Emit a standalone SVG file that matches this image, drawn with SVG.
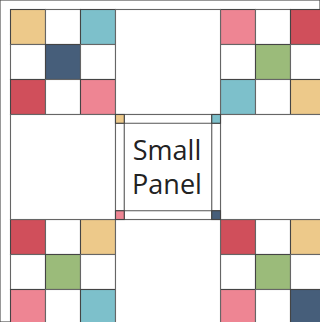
<svg xmlns="http://www.w3.org/2000/svg" width="320" height="322" viewBox="0 0 320 322">
<style>
rect{stroke:#444;stroke-width:1.1}
.w{fill:#fff;stroke:#666}
.y{fill:#EDC98A}
.t{fill:#7DC0CB}
.b{fill:#465E7A}
.r{fill:#D04F5B}
.p{fill:#EE8593}
.g{fill:#9BBB7A}
.ln{stroke:#555;stroke-width:1.1;fill:none}
text{font-family:"Open Sans","Liberation Sans",sans-serif;font-size:27px;fill:#222;text-anchor:middle}
</style>
<rect width="320" height="322" fill="#fff" stroke="none"/>
<g id="block-top-left">
<rect class="y" x="10.5" y="9.5" width="35" height="35"/><rect class="w" x="45.5" y="9.5" width="35" height="35"/><rect class="t" x="80.5" y="9.5" width="35" height="35"/>
<rect class="w" x="10.5" y="44.5" width="35" height="35"/><rect class="b" x="45.5" y="44.5" width="35" height="35"/><rect class="w" x="80.5" y="44.5" width="35" height="35"/>
<rect class="r" x="10.5" y="79.5" width="35" height="35"/><rect class="w" x="45.5" y="79.5" width="35" height="35"/><rect class="p" x="80.5" y="79.5" width="35" height="35"/>
</g>
<g id="block-top-right">
<rect class="p" x="220.5" y="9.5" width="35" height="35"/><rect class="w" x="255.5" y="9.5" width="35" height="35"/><rect class="r" x="290.5" y="9.5" width="35" height="35"/>
<rect class="w" x="220.5" y="44.5" width="35" height="35"/><rect class="g" x="255.5" y="44.5" width="35" height="35"/><rect class="w" x="290.5" y="44.5" width="35" height="35"/>
<rect class="t" x="220.5" y="79.5" width="35" height="35"/><rect class="w" x="255.5" y="79.5" width="35" height="35"/><rect class="y" x="290.5" y="79.5" width="35" height="35"/>
</g>
<g id="block-bottom-left">
<rect class="r" x="10.5" y="219.5" width="35" height="35"/><rect class="w" x="45.5" y="219.5" width="35" height="35"/><rect class="y" x="80.5" y="219.5" width="35" height="35"/>
<rect class="w" x="10.5" y="254.5" width="35" height="35"/><rect class="g" x="45.5" y="254.5" width="35" height="35"/><rect class="w" x="80.5" y="254.5" width="35" height="35"/>
<rect class="p" x="10.5" y="289.5" width="35" height="35"/><rect class="w" x="45.5" y="289.5" width="35" height="35"/><rect class="t" x="80.5" y="289.5" width="35" height="35"/>
</g>
<g id="block-bottom-right">
<rect class="r" x="220.5" y="219.5" width="35" height="35"/><rect class="w" x="255.5" y="219.5" width="35" height="35"/><rect class="y" x="290.5" y="219.5" width="35" height="35"/>
<rect class="w" x="220.5" y="254.5" width="35" height="35"/><rect class="g" x="255.5" y="254.5" width="35" height="35"/><rect class="w" x="290.5" y="254.5" width="35" height="35"/>
<rect class="p" x="220.5" y="289.5" width="35" height="35"/><rect class="w" x="255.5" y="289.5" width="35" height="35"/><rect class="b" x="290.5" y="289.5" width="35" height="35"/>
</g>
<g id="plain-squares">
<rect class="w" x="115.5" y="9.5" width="105" height="105"/>
<rect class="w" x="10.5" y="114.5" width="105" height="105"/>
<rect class="w" x="220.5" y="114.5" width="105" height="105"/>
<rect class="w" x="115.5" y="219.5" width="105" height="105"/>
</g>
<g id="small-panel">
<rect class="w" x="115.5" y="114.5" width="105" height="105"/>
<path class="ln" d="M124.25 114.5V219.5M211.75 114.5V219.5M115.5 123.25H220.5M115.5 210.75H220.5"/>
<rect class="y" x="115.5" y="114.5" width="8.75" height="8.75"/>
<rect class="t" x="211.75" y="114.5" width="8.75" height="8.75"/>
<rect class="p" x="115.5" y="210.75" width="8.75" height="8.75"/>
<rect class="b" x="211.75" y="210.75" width="8.75" height="8.75"/>
<text x="167" y="160">Small</text>
<text x="167" y="194">Panel</text>
</g>
</svg>
